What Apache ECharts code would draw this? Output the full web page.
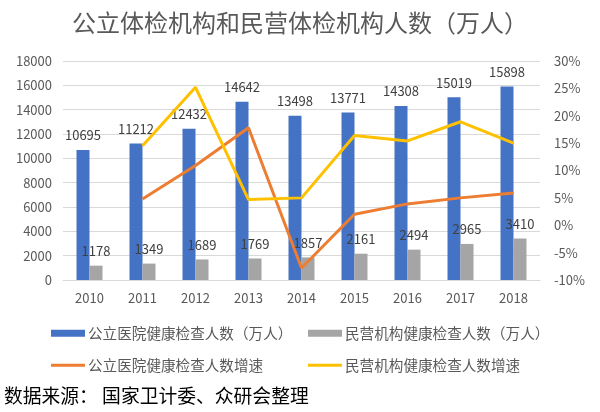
<!DOCTYPE html>
<html><head><meta charset="utf-8">
<script src="https://cdn.jsdelivr.net/npm/echarts@6/dist/echarts.min.js"></script>
<style>html,body{margin:0;padding:0;background:#fff;}#c{width:600px;height:412px;}</style>
</head><body><div id="c"></div>
<script>
const years = ['2010','2011','2012','2013','2014','2015','2016','2017','2018'];
const publicCount = [10695,11212,12432,14642,13498,13771,14308,15019,15898];
const privateCount = [1178,1349,1689,1769,1857,2161,2494,2965,3410];
const publicGrowth = [null,4.8,10.9,17.8,-7.8,2.0,3.9,5.0,5.9];
const privateGrowth = [null,14.5,25.2,4.7,5.0,16.4,15.4,18.9,15.0];
const names = ['公立医院健康检查人数（万人）','民营机构健康检查人数（万人）','公立医院健康检查人数增速','民营机构健康检查人数增速'];
const cBlue='#4472C4', cGray='#A5A5A5', cOrange='#ED7D31', cYellow='#FFC000', txt='#595959';
const ff = '"Noto Sans CJK SC", "Liberation Sans", sans-serif';
const chart = echarts.init(document.getElementById('c'));
function lg(name, left, top, isLine){
  return {data:[name], left:left, top:top, icon:'rect', itemWidth:34, itemHeight:isLine?3:7, itemGap:0,
    textStyle:{color:txt, fontSize:14.6, fontFamily:ff, padding:[0,0,0,-2]}, selectedMode:false};
}
chart.setOption({
  animation:false,
  textStyle:{fontFamily:ff},
  title:{text:'公立体检机构和民营体检机构人数（万人）', left:'center', top:6,
    textStyle:{color:txt, fontSize:24, fontWeight:'normal', fontFamily:ff}},
  grid:{left:63, right:60, top:61, bottom:132},
  legend:[lg(names[0],46,321,false), lg(names[1],303,321,false), lg(names[2],46,353,true), lg(names[3],303,353,true)],
  graphic:[{type:'text', left:4, top:386, style:{text:'数据来源： 国家卫计委、众研会整理', fill:'#000', fontSize:18.8, fontFamily:ff}}],
  xAxis:{type:'category', data:years, axisTick:{show:false},
    axisLine:{lineStyle:{color:'#D9D9D9'}},
    axisLabel:{color:txt, fontSize:13, margin:12}},
  yAxis:[
    {type:'value', min:0, max:18000, interval:2000,
     axisLabel:{color:txt, fontSize:13, margin:11, formatter:function(v){return String(v);}},
     splitLine:{lineStyle:{color:'#D9D9D9'}}, axisLine:{show:false}},
    {type:'value', min:-10, max:30, interval:5,
     axisLabel:{color:txt, fontSize:13, formatter:'{value}%', margin:14},
     splitLine:{show:false}, axisLine:{show:false}}
  ],
  series:[
    {name:names[0], type:'bar', data:publicCount, itemStyle:{color:cBlue}, barWidth:13, barGap:'0%',
     label:{show:true, position:'top', distance:8, color:'#404040', fontSize:13}},
    {name:names[1], type:'bar', data:privateCount, itemStyle:{color:cGray}, barWidth:13,
     label:{show:true, position:'top', distance:8, color:'#404040', fontSize:13}},
    {name:names[2], type:'line', yAxisIndex:1, data:publicGrowth, showSymbol:false, symbol:'none',
     lineStyle:{color:cOrange, width:3}, itemStyle:{color:cOrange}, z:5},
    {name:names[3], type:'line', yAxisIndex:1, data:privateGrowth, showSymbol:false, symbol:'none',
     lineStyle:{color:cYellow, width:3}, itemStyle:{color:cYellow}, z:5}
  ]
});
</script></body></html>
